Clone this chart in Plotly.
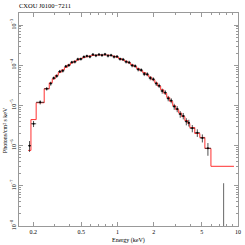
import plotly.graph_objects as go
import numpy as np

# Spectrum bins (keV edges)
bin_edges = [0.181, 0.191, 0.211, 0.246, 0.271, 0.287, 0.304, 0.322, 0.341, 0.362,
             0.383, 0.406, 0.430, 0.455, 0.482, 0.511, 0.541, 0.573, 0.607, 0.643,
             0.681, 0.722, 0.764, 0.810, 0.858, 0.909, 0.962, 1.019, 1.080, 1.144,
             1.212, 1.284, 1.360, 1.441, 1.527, 1.618, 1.714, 1.816, 1.924, 2.04,
             2.15, 2.28, 2.42, 2.56, 2.71, 2.87, 3.04, 3.22, 3.41, 3.62,
             3.83, 3.98, 4.38, 4.82, 5.31, 5.96, 9.26]

# Model (photons/cm^2/s/keV) per bin
model_flux = [7.61e-7, 4.45e-6, 1.17e-5, 2.61e-5,
              3.66e-5, 4.61e-5, 5.62e-5, 6.67e-5, 7.69e-5, 8.87e-5, 1.02e-4, 1.15e-4, 1.26e-4, 1.36e-4,
              1.47e-4, 1.56e-4, 1.63e-4, 1.70e-4, 1.75e-4, 1.78e-4, 1.80e-4, 1.81e-4, 1.81e-4, 1.79e-4,
              1.75e-4, 1.68e-4, 1.59e-4, 1.47e-4, 1.36e-4, 1.26e-4, 1.15e-4, 1.03e-4, 9.29e-5, 8.24e-5,
              7.35e-5, 6.56e-5, 5.78e-5, 5.07e-5, 4.35e-5, 3.66e-5, 3.04e-5, 2.46e-5, 2.00e-5, 1.59e-5,
              1.26e-5, 9.89e-6, 7.87e-6, 6.45e-6, 5.28e-6, 4.21e-6, 3.55e-6, 2.82e-6, 2.00e-6, 1.60e-6,
              8.53e-7, 3.06e-7]

# Measured data per bin (all bins except the last)
data_flux = [1.0e-6, 3.5e-6, 1.2e-5, 2.6e-5,
             3.5e-5, 4.8e-5, 5.4e-5, 7.0e-5, 7.3e-5, 9.4e-5, 1.0e-4, 1.19e-4, 1.22e-4, 1.42e-4,
             1.43e-4, 1.62e-4, 1.70e-4, 1.64e-4, 1.86e-4, 1.74e-4, 1.85e-4, 1.78e-4, 1.88e-4, 1.72e-4,
             1.78e-4, 1.62e-4, 1.65e-4, 1.43e-4, 1.40e-4, 1.22e-4, 1.18e-4, 9.9e-5, 9.6e-5, 7.9e-5,
             7.6e-5, 6.1e-5, 6.0e-5, 4.8e-5, 4.5e-5, 3.5e-5, 3.1e-5, 2.3e-5, 2.1e-5, 1.5e-5,
             1.32e-5, 9.4e-6, 8.2e-6, 6.1e-6, 5.5e-6, 4.0e-6, 3.7e-6, 2.7e-6, 2.1e-6, 1.55e-6,
             8.6e-7]

data_err = [3.0e-7, 6e-7, 1.4e-6, 2.5e-6,
            4e-6, 4.5e-6, 5.5e-6, 6.5e-6, 7e-6, 8e-6, 9e-6, 1e-5, 1.1e-5, 1.2e-5,
            1.25e-5, 1.35e-5, 1.4e-5, 1.45e-5, 1.5e-5, 1.5e-5, 1.55e-5, 1.55e-5, 1.55e-5, 1.55e-5,
            1.5e-5, 1.45e-5, 1.4e-5, 1.3e-5, 1.25e-5, 1.15e-5, 1.1e-5, 1e-5, 9.5e-6, 8.5e-6,
            8e-6, 7.2e-6, 6.6e-6, 5.6e-6, 5e-6, 4.4e-6, 3.9e-6, 3.3e-6, 2.8e-6, 2.3e-6,
            1.9e-6, 1.6e-6, 1.4e-6, 1.15e-6, 1e-6, 8e-7, 7e-7, 5.5e-7, 4.5e-7, 3.5e-7,
            3.0e-7]

# Last bin: only upper error visible
last_energy = 7.6
last_upper = 1.16e-7

y_min, y_max = 1e-8, 2.0e-3
x_min, x_max = 0.152, 10.0

x_ticks = [0.2, 0.5, 1, 2, 5, 10]
x_tick_text = ["0.2", "0.5", "1", "2", "5", "10"]
y_ticks = [1e-8, 1e-7, 1e-6, 1e-5, 1e-4, 1e-3]
y_tick_text = ["10<sup>−8</sup>", "10<sup>−7</sup>", "10<sup>−6</sup>",
               "10<sup>−5</sup>", "10<sup>−4</sup>", "10<sup>−3</sup>"]

edges = np.array(bin_edges)
centers = np.sqrt(edges[:-1] * edges[1:])
n_data = len(data_flux)
xc = centers[:n_data]
xerr_plus = edges[1:n_data + 1] - xc
xerr_minus = xc - edges[:n_data]

# step line of model
step_x = list(edges)
step_y = list(model_flux) + [model_flux[-1]]

minor_x = [v * m for v in [0.1, 1] for m in range(2, 10)]
minor_x = [v for v in minor_x if x_min < v < x_max]
minor_y = [10.0 ** e * m for e in range(-8, -2) for m in range(2, 10)]

font = "Liberation Serif"
fig = go.Figure()
fig.add_trace(go.Scatter(
    x=step_x, y=step_y, mode="lines", line=dict(color="#ff3030", width=1, shape="hv"),
    showlegend=False))
fig.add_trace(go.Scatter(
    x=xc, y=data_flux, mode="markers",
    marker=dict(color="black", size=2),
    error_x=dict(type="data", array=xerr_plus, arrayminus=xerr_minus, color="#222222", thickness=0.8, width=0),
    error_y=dict(type="data", array=data_err, color="#222222", thickness=0.8, width=0),
    showlegend=False))
fig.add_trace(go.Scatter(
    x=[last_energy, last_energy], y=[y_min, last_upper], mode="lines",
    line=dict(color="#666666", width=1), showlegend=False))

axis_common = dict(type="log", showgrid=False, zeroline=False, showline=True, linecolor="#999999",
                   linewidth=1, mirror="ticks", ticks="inside", tickcolor="#999999", ticklen=4,
                   automargin=False, tickfont=dict(family=font, size=6, color="black"))

fig.update_xaxes(**axis_common, range=[np.log10(x_min), np.log10(x_max)],
                 tickvals=x_ticks, ticktext=x_tick_text,
                 minor=dict(tickmode="array", tickvals=minor_x, ticks="inside", ticklen=2, tickcolor="#999999"))
fig.update_yaxes(**axis_common, range=[np.log10(y_min), np.log10(y_max)],
                 tickvals=y_ticks, ticktext=y_tick_text, tickangle=-90,
                 minor=dict(tickmode="array", tickvals=minor_y, ticks="inside", ticklen=2, tickcolor="#999999"))

fig.add_annotation(text="Energy (keV)", xref="paper", yref="paper", x=0.5, y=-14 / 213,
                   xanchor="center", yanchor="middle", showarrow=False,
                   font=dict(family=font, size=6, color="black"))
fig.add_annotation(text="Photons/cm² s keV", xref="paper", yref="paper", x=-14 / 219, y=0.45,
                   xanchor="center", yanchor="middle", showarrow=False, textangle=-90,
                   font=dict(family=font, size=6, color="black"))

fig.update_layout(
    width=245, height=245,
    margin=dict(l=19, r=7, t=13, b=19),
    paper_bgcolor="white", plot_bgcolor="white",
    hovermode=False,
    title=dict(text="CXOU J0100−7211", x=19 / 245, xanchor="left", y=1 - 6 / 245, yanchor="middle",
               font=dict(family=font, size=6.5, color="black")),
)
fig.write_html("out.html", config={"displayModeBar": False, "staticPlot": True},
               post_script="document.body.style.margin='0';document.body.style.overflow='hidden';")
